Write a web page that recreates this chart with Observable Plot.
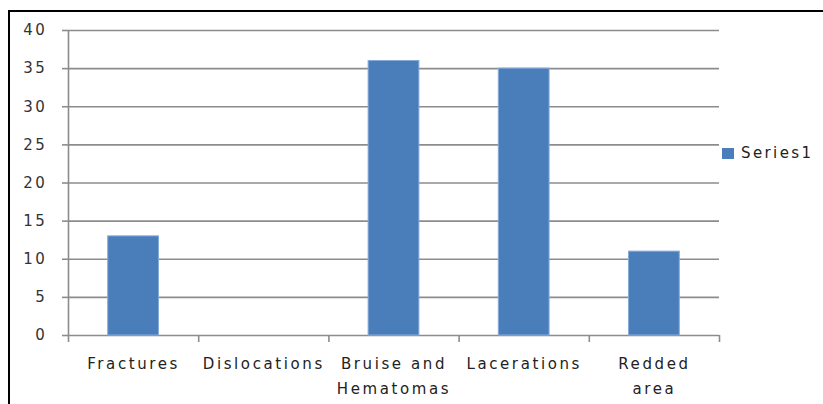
<!DOCTYPE html>
<html>
<head>
<meta charset="utf-8">
<script src="https://cdn.jsdelivr.net/npm/d3@7"></script>
<script src="https://cdn.jsdelivr.net/npm/@observablehq/plot@0.6"></script>
<style>
  body { margin: 0; background: #fff; }
  #wrap { position: relative; width: 823px; height: 404px; overflow: hidden; background: #fff; font-family: "DejaVu Sans", sans-serif; }
  #frame { position: absolute; left: 8px; top: 10px; width: 900px; height: 500px; border-left: 2px solid #000; border-top: 2px solid #000; }
  #chart { position: absolute; left: 0; top: 0; }
  #chart svg text { letter-spacing: 2.6px; }
  #legend { position: absolute; left: 722px; top: 144px; display: flex; align-items: center; font-size: 15px; letter-spacing: 2.4px; color: #222; }
  #legend .sw { width: 12px; height: 11px; background: #4a7ebb; margin-right: 7px; }
</style>
</head>
<body>
<div id="wrap">
  <div id="frame"></div>
  <div id="chart"></div>
  <div id="legend"><span class="sw"></span><span id="legend-text"></span></div>
</div>
<script>
// Injury types and their counts
const categories = ["Fractures", "Dislocations", "Bruise and\nHematomas", "Lacerations", "Redded\narea"];
const values = [13, 0, 36, 35, 11];
const seriesName = "Series1";
const yTicks = [0, 5, 10, 15, 20, 25, 30, 35, 40];

const rows = categories.map((name, i) => ({i, name, value: values[i]}));
const grid = "#8c8c8c";
const barFill = "#4a7ebb";

const chart = Plot.plot({
  width: 823,
  height: 404,
  marginLeft: 68,
  marginRight: 104,
  marginTop: 30,
  marginBottom: 69,
  x: {domain: [0, categories.length]},
  y: {domain: [0, 40]},
  style: {fontFamily: "DejaVu Sans, sans-serif", fontSize: "15px", background: "transparent", overflow: "visible"},
  marks: [
    Plot.gridY(yTicks, {stroke: grid, strokeOpacity: 1, strokeWidth: 1.6}),
    Plot.axisY({ticks: yTicks, label: null, tickSize: 6, tickPadding: 15, stroke: grid, strokeWidth: 1.6, fill: "#333", fontSize: 15}),
    Plot.ruleX([0], {y1: 0, y2: 40, stroke: grid, strokeWidth: 1.6}),
    // category boundary ticks below the baseline
    Plot.axisX({ticks: d3.range(categories.length + 1), label: null, tickFormat: () => "", tickSize: 7, stroke: grid, strokeWidth: 1.6}),
    Plot.rectY(rows.filter(d => d.value > 0), {
      x1: d => d.i + 0.305,
      x2: d => d.i + 0.695,
      y: "value",
      fill: barFill,
      stroke: "#86abd9",
      strokeWidth: 1
    }),
    Plot.text(rows, {
      x: d => d.i + 0.5,
      y: 0,
      text: "name",
      lineAnchor: "top",
      dy: 16,
      lineHeight: 1.67,
      fontSize: 15,
      fill: "#222"
    })
  ]
});

document.getElementById("chart").append(chart);
document.getElementById("legend-text").textContent = seriesName;
</script>
</body>
</html>
